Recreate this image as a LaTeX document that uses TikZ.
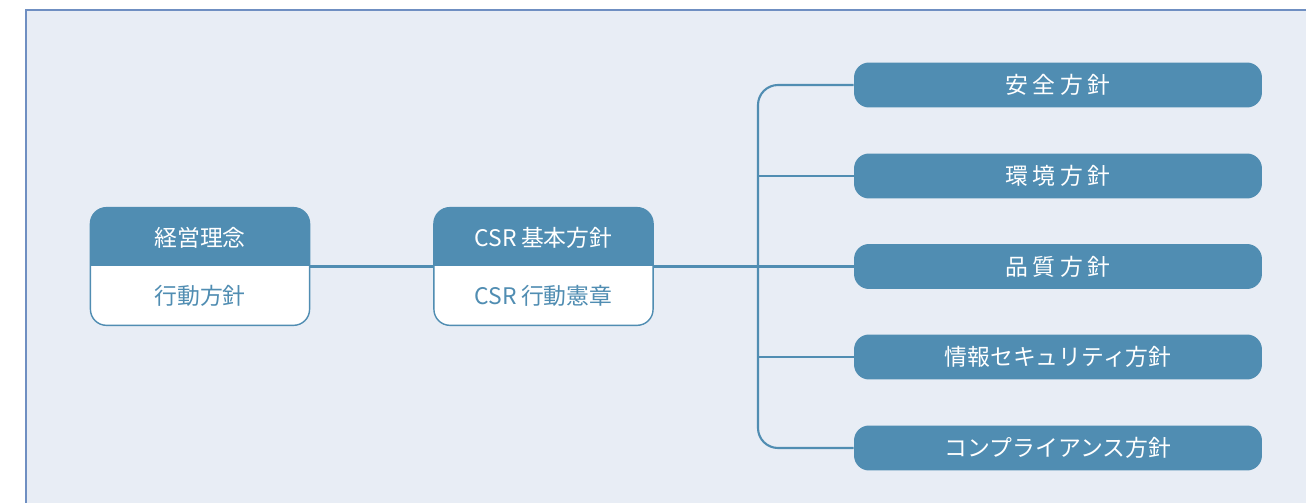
\documentclass[tikz,border=0pt]{standalone}
\usepackage{fontspec}
\setmainfont{Noto Sans CJK JP}
\newfontfamily\widejp[LetterSpace=20]{Noto Sans CJK JP}
\usetikzlibrary{positioning,calc}
\definecolor{steel}{HTML}{508DB2}
\definecolor{panel}{HTML}{E8EDF5}
\definecolor{framec}{HTML}{6F8FC2}

\begin{document}
\begin{tikzpicture}[x=0.02cm,y=-0.02cm,
    conn/.style={draw=steel,line width=1.2pt},
    card/.style={fill=white,rounded corners=0.32cm,minimum width=4.37cm,minimum height=2.34cm,inner sep=0pt},
    leaf/.style={fill=steel,rounded corners=0.3cm,minimum width=8.16cm,minimum height=0.9cm,inner sep=0pt,text=white,font=\fontsize{13}{15}\selectfont},
    headtxt/.style={text=white,font=\fontsize{13}{15}\selectfont},
    bodytxt/.style={text=steel,font=\fontsize{13}{15}\selectfont}]
    \useasboundingbox (0,0) rectangle (1306,503);
    \fill[panel] (26,10) rectangle (1306,503);
    \draw[framec,line width=0.9pt] (26,503) -- (26,10) -- (1306,10);

    % two-part cards
    \node[card] (keiei) at (200,266.5) {};
    \node[card] (csr) at (543.5,266.5) {};
    \foreach \n in {keiei,csr}{
      \begin{scope}
        \clip[rounded corners=0.32cm] (\n.south west) rectangle (\n.north east);
        \fill[steel] (\n.north west) rectangle (\n.east);
      \end{scope}
      \draw[steel,line width=0.8pt,rounded corners=0.32cm] (\n.south west) rectangle (\n.north east);}
    \node[headtxt] (keieiHead) at (200,238) {経営理念};
    \node[bodytxt] (keieiBody) at (200,296) {行動方針};
    \node[headtxt] (csrHead) at (543.5,238) {CSR\hspace{0.2em}基本方針};
    \node[bodytxt] (csrBody) at (543.5,296) {CSR\hspace{0.2em}行動憲章};

    % policies
    \node[leaf] (anzen) at (1058,85) {\widejp 安全方針};
    \node[leaf] (kankyo) at (1058,176) {\widejp 環境方針};
    \node[leaf] (hinshitsu) at (1058,266.5) {\widejp 品質方針};
    \node[leaf] (joho) at (1058,357) {情報セキュリティ方針};
    \node[leaf] (compliance) at (1058,448) {コンプライアンス方針};

    \coordinate (bus) at (758,266.5);
    \draw[conn] (keiei.east) -- (csr.west);
    \draw[conn] (csr.east) -- (hinshitsu.west);
    \draw[conn,rounded corners=0.4cm] (anzen.west) -| (bus) |- (compliance.west);
    \foreach \n in {kankyo,joho}
      \draw[conn] (bus |- \n.west) -- (\n.west);
  \end{tikzpicture}
\end{document}
